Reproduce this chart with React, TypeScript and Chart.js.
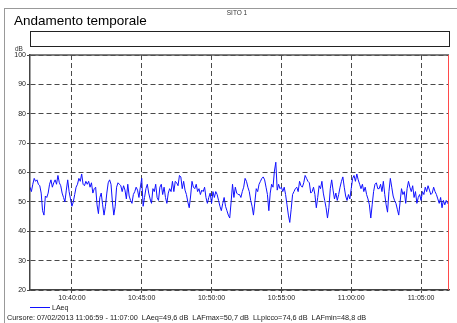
import React, { useEffect, useRef } from "react";
import { Chart, registerables } from "chart.js";

Chart.register(...registerables);

const FONT = "'Liberation Sans', Arial, sans-serif";

// Time axis: minutes past 10:00, sampled every STEP_SEC seconds
const START_MIN = 37; // 10:37:00
const END_MIN = 67; // 11:07:00
const STEP_SEC = 6;
const X_TICKS = [40, 45, 50, 55, 60, 65];
const Y_MIN = 20;
const Y_MAX = 100;
const Y_STEP = 10;

const SERIES_NAME = "LAeq";
const TITLE = "Andamento temporale";
const SITE = "SITO 1";
const CURSOR_TEXT =
  "Cursore: 07/02/2013 11:06:59 - 11:07:00  LAeq=49,6 dB  LAFmax=50,7 dB  LLpicco=74,6 dB  LAFmin=48,8 dB";

// LAeq values (dB), 10:37:00 -> 11:07:00
const laeq1037 = [
  55, 53.5, 56, 58, 57, 57.5, 56, 55.5, 53, 47,
  45.5, 52, 51.5, 53, 56, 57.5, 55, 56.5, 57.5, 56,
  59, 56.5, 55.5, 53, 51.5, 50, 54, 57.5, 53.5, 51,
  48.5, 50, 52.5, 55, 56, 58, 57, 59.5, 56, 55.5,
  57, 56, 57, 55, 56.5, 53, 54.5, 55, 49, 46,
];
const laeq1042 = [
  51.5, 53, 49, 45.5, 48.5, 53, 56.5, 57.5, 56, 50,
  45.5, 48.5, 55, 56.5, 56, 55.5, 53.5, 55.5, 54, 51,
  56, 52, 50.5, 49.5, 52.5, 53.5, 55, 54, 51.5, 55,
  58, 48.5, 51.5, 54.5, 56, 53, 51, 49.5, 54.5, 53.5,
  56, 51.5, 50.5, 55, 56, 52.5, 55, 51.5, 49.5, 53,
];
const laeq1047 = [
  54.5, 53.5, 57, 53.5, 57, 56.5, 55.5, 59, 58.5, 54.5,
  57, 54, 52.5, 50, 48, 52, 57, 55, 54.5, 56,
  53.5, 54.5, 52.5, 54, 53.5, 55, 51.5, 49.5, 51.5, 53,
  49.5, 53.5, 51.5, 53.5, 52.5, 50.5, 48.5, 47, 49.5, 51.5,
  48.5, 47, 45.5, 44.5, 50, 56, 51.5, 55, 53, 52.5,
];
const laeq1052 = [
  52.5, 51.5, 53.5, 55, 58, 57, 55, 53.5, 50.5, 48.5,
  45.5, 50, 54.5, 53.5, 56, 57, 58, 58.5, 57.5, 55,
  52.5, 47, 53, 56, 55, 60.5, 63.5, 54, 56, 54.5,
  55, 53.5, 55, 52.5, 49, 45.5, 43, 47.5, 52.5, 53.5,
  54.5, 55, 53.5, 57, 55.5, 55, 56.5, 59, 58, 57,
];
const laeq1057 = [
  56.5, 53, 53.5, 55, 52.5, 48, 51.5, 55.5, 54.5, 57,
  53, 50.5, 48, 44.5, 48, 54.5, 57.5, 54, 51, 53,
  50.5, 52.5, 55, 57, 58.5, 55, 52, 50.5, 52.5, 51,
  54.5, 58, 59, 57, 59.5, 57.5, 56, 54.5, 56, 53.5,
  55, 52.5, 51, 49, 44.5, 49, 53.5, 56, 56.5, 54.5,
];
const laeq1102 = [
  54.5, 56, 53.5, 57, 52.5, 49, 46.5, 53.5, 58, 55,
  52, 50.5, 49.5, 47.5, 45.5, 50, 54.5, 52.5, 53.5, 49.5,
  54.5, 57, 55, 53.5, 55.5, 51.5, 53.5, 49.5, 51.5, 52.5,
  50.5, 53.5, 52.5, 55, 53.5, 55.5, 54, 52.5, 53, 55,
  53.5, 52.5, 51, 49.5, 51.5, 48, 50.5, 49, 50.5, 49.5,
  49.6,
];

const LAEQ = [...laeq1037, ...laeq1042, ...laeq1047, ...laeq1052, ...laeq1057, ...laeq1102];

function fmtTime(min: number) {
  const totalSec = Math.round((10 * 60 + min) * 60);
  const h = Math.floor(totalSec / 3600);
  const m = Math.floor((totalSec % 3600) / 60);
  const s = totalSec % 60;
  const p = (n: number) => String(n).padStart(2, "0");
  return `${p(h)}:${p(m)}:${p(s)}`;
}

const framePlugin = {
  id: "frameLines",
  afterDraw(chart: any) {
    const { ctx, chartArea } = chart;
    const { left, right, top, bottom } = chartArea;
    ctx.save();
    ctx.setLineDash([]);
    ctx.strokeStyle = "#555";
    ctx.lineWidth = 1.5;
    ctx.beginPath();
    ctx.moveTo(left, top);
    ctx.lineTo(right, top);
    ctx.stroke();
    ctx.strokeStyle = "#ff4a4a";
    ctx.lineWidth = 1;
    ctx.beginPath();
    ctx.moveTo(right - 0.5, top);
    ctx.lineTo(right - 0.5, bottom);
    ctx.stroke();
    ctx.restore();
  },
};

export default function App() {
  const canvasRef = useRef<HTMLCanvasElement | null>(null);

  useEffect(() => {
    if (!canvasRef.current) return;
    Chart.defaults.font.family = FONT;
    const points = LAEQ.map((v, i) => ({ x: START_MIN + (i * STEP_SEC) / 60, y: v }));
    const chart = new Chart(canvasRef.current, {
      type: "line",
      data: {
        datasets: [
          {
            label: SERIES_NAME,
            data: points,
            borderColor: "#1010ff",
            borderWidth: 1,
            pointRadius: 0,
            tension: 0,
            fill: false,
          },
        ],
      },
      plugins: [framePlugin],
      options: {
        animation: false,
        responsive: false,
        devicePixelRatio: 1,
        layout: { padding: { left: 0, top: 55, right: 8, bottom: 19 } },
        plugins: { legend: { display: false }, tooltip: { enabled: false } },
        scales: {
          x: {
            type: "linear",
            min: START_MIN,
            max: END_MIN,
            afterBuildTicks: (scale: any) => {
              scale.ticks = X_TICKS.map((v) => ({ value: v }));
            },
            afterFit: (scale: any) => {
              scale.height = 14;
            },
            ticks: {
              autoSkip: false,
              maxRotation: 0,
              padding: 1,
              font: { size: 7, family: FONT },
              color: "#222",
              callback: (v: any) => fmtTime(Number(v)),
            },
            grid: { color: "#4a4a4a", lineWidth: 1, tickLength: 3, drawTicks: true },
            border: { display: true, color: "#444", width: 1.5, dash: [5, 3] },
          },
          y: {
            min: Y_MIN,
            max: Y_MAX,
            afterFit: (scale: any) => {
              scale.width = 30;
            },
            ticks: {
              stepSize: Y_STEP,
              padding: 1,
              font: { size: 7, family: FONT },
              color: "#222",
            },
            grid: { color: "#4a4a4a", lineWidth: 1, tickLength: 3, drawTicks: true },
            border: { display: true, color: "#444", width: 1.5, dash: [5, 3] },
          },
        },
      },
    } as any);
    return () => chart.destroy();
  }, []);

  const abs = (extra: React.CSSProperties): React.CSSProperties => ({
    position: "absolute",
    whiteSpace: "pre",
    fontFamily: FONT,
    color: "#111",
    ...extra,
  });

  return (
    <div
      style={{
        position: "fixed",
        left: 0,
        top: 0,
        width: 457,
        height: 323,
        background: "#fff",
        overflow: "hidden",
      }}
    >
      <div
        style={{
          position: "absolute",
          left: 4,
          top: 8,
          width: 470,
          height: 340,
          border: "1px solid #999",
        }}
      />
      <canvas ref={canvasRef} width={457} height={323} style={{ position: "absolute", left: 0, top: 0 }} />
      <span style={abs({ left: 0, width: 474, textAlign: "center", top: 9.5, fontSize: 6.5, lineHeight: "6.5px", color: "#333" })}>
        {SITE}
      </span>
      <span style={abs({ left: 14, top: 13.6, fontSize: 13.5, lineHeight: "13.5px", color: "#000" })}>{TITLE}</span>
      <div
        style={{
          position: "absolute",
          left: 30,
          top: 31,
          width: 418,
          height: 14,
          border: "1px solid #222",
        }}
      />
      <span style={abs({ left: 15, top: 46, fontSize: 6.5, lineHeight: "6.5px", color: "#333" })}>dB</span>
      <div style={{ position: "absolute", left: 30, top: 306.5, width: 20, height: 1, background: "#1010ff" }} />
      <span style={abs({ left: 52, top: 304, fontSize: 7, lineHeight: "7px", color: "#222" })}>{SERIES_NAME}</span>
      <span style={abs({ left: 7, top: 313.8, fontSize: 7.3, lineHeight: "7.3px", color: "#222" })}>
        {CURSOR_TEXT}
      </span>
    </div>
  );
}
